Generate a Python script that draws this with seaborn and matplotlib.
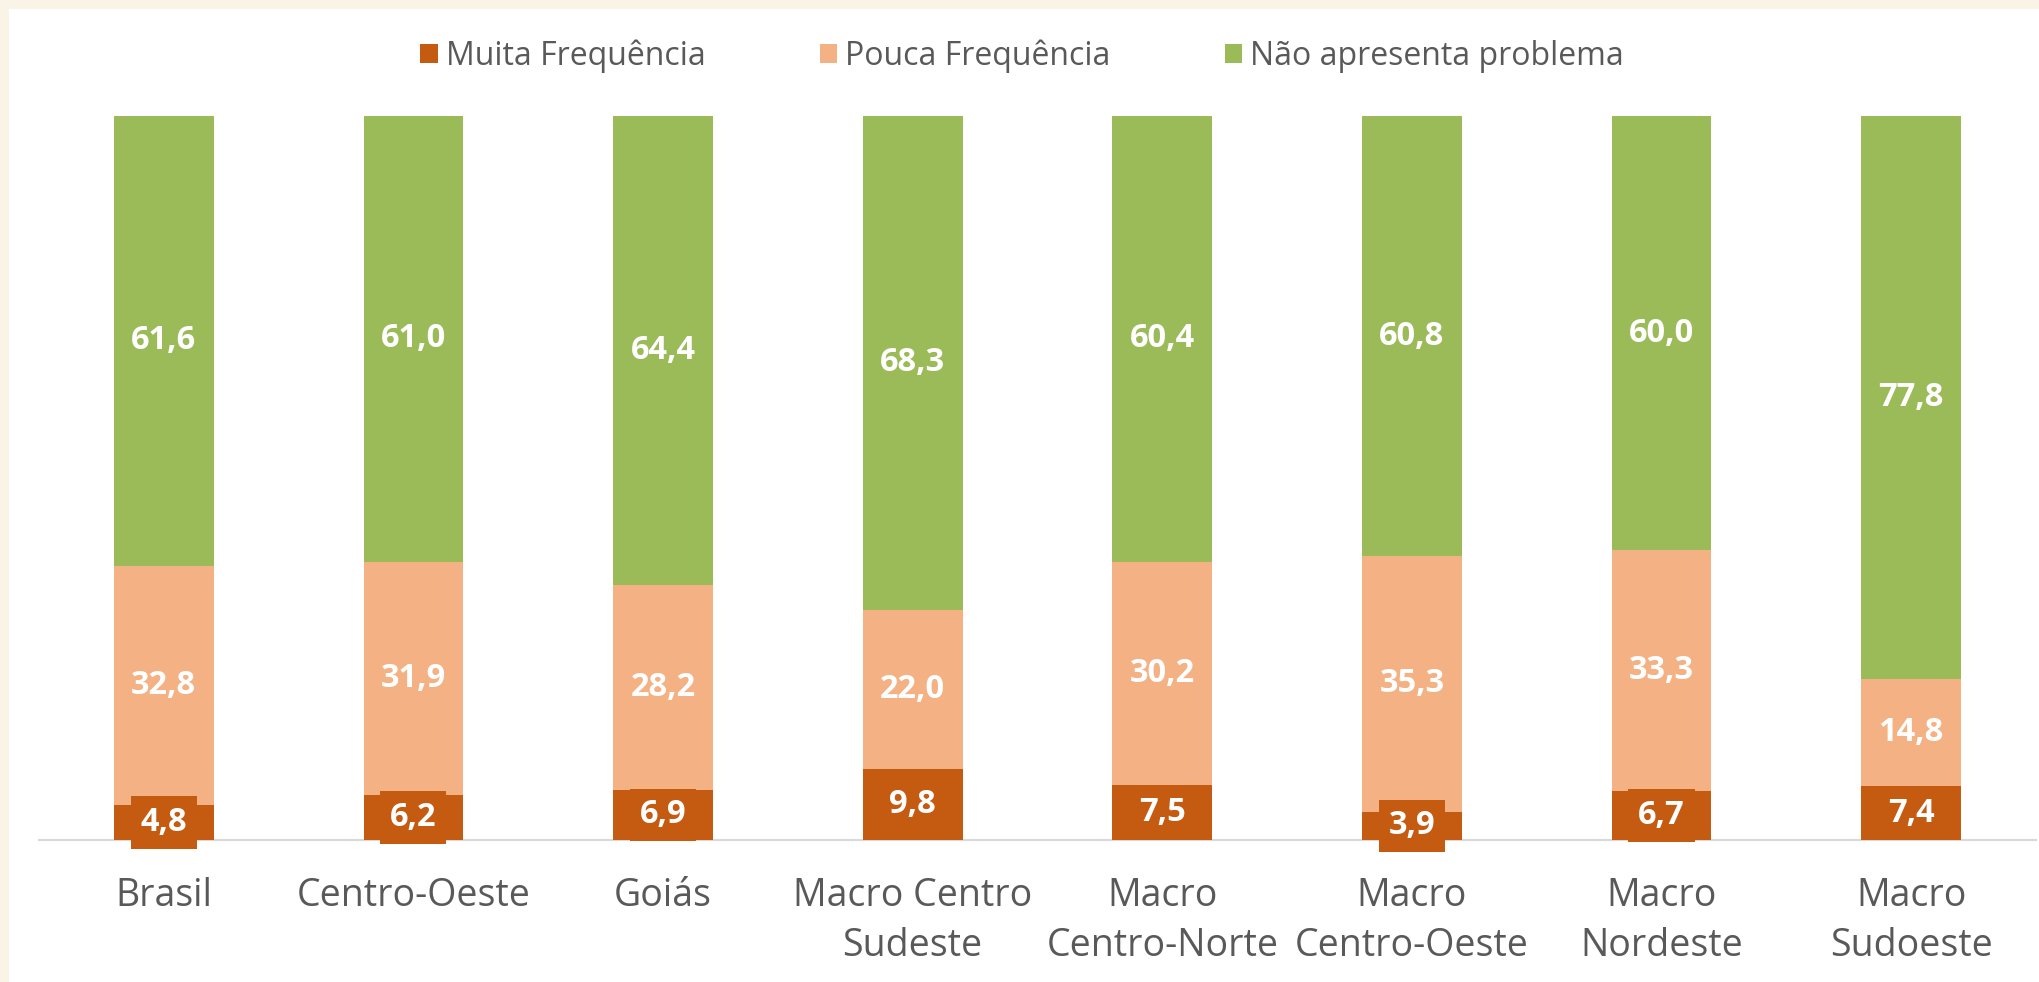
import numpy as np
import pandas as pd
import matplotlib.pyplot as plt
import seaborn as sns
from matplotlib.patches import Patch, Rectangle

regions = ["Brasil", "Centro-Oeste", "Goiás", "Macro Centro\nSudeste", "Macro\nCentro-Norte",
           "Macro\nCentro-Oeste", "Macro\nNordeste", "Macro\nSudoeste"]
muita = [4.8, 6.2, 6.9, 9.8, 7.5, 3.9, 6.7, 7.4]
pouca = [32.8, 31.9, 28.2, 22.0, 30.2, 35.3, 33.3, 14.8]
nao = [61.6, 61.0, 64.4, 68.3, 60.4, 60.8, 60.0, 77.8]

series_names = ["Muita Frequência", "Pouca Frequência", "Não apresenta problema"]
colors = ["#C55A11", "#F4B183", "#9BBB59"]
text_gray = "#595959"

# 100% stacked, as in the original Excel chart
df = pd.DataFrame({"region": regions, "muita": muita, "pouca": pouca, "nao": nao})
total = df[["muita", "pouca", "nao"]].sum(axis=1)
df["p_muita"] = df["muita"] / total * 100
df["p_pouca"] = df["pouca"] / total * 100
df["p_nao"] = df["nao"] / total * 100
df["c1"] = df["p_muita"]
df["c2"] = df["c1"] + df["p_pouca"]
df["c3"] = df["c2"] + df["p_nao"]

sns.set_theme(style="white")
plt.rcParams["font.family"] = ["Open Sans", "DejaVu Sans"]

fig = plt.figure(figsize=(20.4, 9.82), dpi=100, facecolor="#FAF4E6")
# white chart area inside the cream frame
fig.patches.append(Rectangle((9 / 2040, 0), 1, 1 - 9 / 982, transform=fig.transFigure,
                             facecolor="white", edgecolor="none", zorder=-1))
ax = fig.add_axes([39 / 2040, 1 - 840 / 982, 1997 / 2040, 724 / 982])
ax.set_facecolor("none")
ax.set_zorder(1)

for col, color in zip(["c3", "c2", "c1"], colors[::-1]):
    sns.barplot(data=df, x="region", y=col, color=color, width=0.4,
                saturation=1, ax=ax, linewidth=0, order=regions)

for i, row in df.iterrows():
    ax.text(i, row["c1"] / 2, f"{row['muita']:.1f}".replace(".", ","), ha="center", va="center",
            color="white", fontsize=23.5, fontweight="bold",
            bbox=dict(boxstyle="square,pad=0.3", facecolor=colors[0], edgecolor="none"))
    ax.text(i, row["c1"] + row["p_pouca"] / 2, f"{row['pouca']:.1f}".replace(".", ","),
            ha="center", va="center", color="white", fontsize=23.5, fontweight="bold")
    ax.text(i, row["c2"] + row["p_nao"] / 2, f"{row['nao']:.1f}".replace(".", ","),
            ha="center", va="center", color="white", fontsize=23.5, fontweight="bold")

ax.set_ylim(0, 100)
ax.set_xlim(-0.5, 7.5)
ax.set_xlabel("")
ax.set_ylabel("")
ax.set_yticks([])
ax.tick_params(axis="x", length=0, pad=27, labelsize=27, labelcolor=text_gray)
for lab in ax.get_xticklabels():
    lab.set_linespacing(1.38)
for s in ["top", "right", "left"]:
    ax.spines[s].set_visible(False)
ax.spines["bottom"].set_color("#D9D9D9")
ax.spines["bottom"].set_linewidth(1.5)
ax.spines["bottom"].set_zorder(0.5)

handles = [Patch(facecolor=c, edgecolor="none", label=n) for c, n in zip(colors, series_names)]
fig.legend(handles=handles, loc="center", bbox_to_anchor=(0.501, 1 - 56 / 982), ncol=3,
           frameon=False, fontsize=23, labelcolor=text_gray, handlelength=0.55,
           handleheight=0.55, handletextpad=0.25, columnspacing=3.57)

fig.savefig("out.png", dpi=100, facecolor=fig.get_facecolor())
